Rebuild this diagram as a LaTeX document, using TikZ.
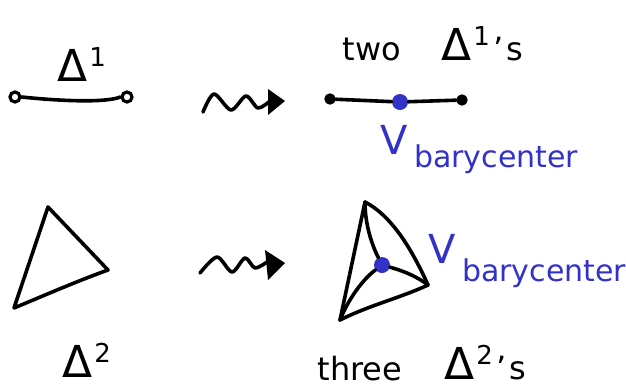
\documentclass[tikz,border=0pt]{standalone}
\usepackage{fontspec}
\setmainfont{DejaVu Sans}
\usetikzlibrary{arrows.meta}
\definecolor{penblue}{RGB}{50,50,200}
\newcommand\dsup[1]{Δ\kern2pt\raisebox{15pt}{\fontsize{26}{26}\selectfont #1}}
\begin{document}
\begin{tikzpicture}[x=1pt,y=-1pt,
  ink/.style={line width=3.6pt, line cap=round, line join=round},
  endpt/.style={circle, draw, line width=3.2pt, minimum size=10pt, inner sep=0pt},
  bdot/.style={circle, fill=penblue, minimum size=16pt, inner sep=0pt},
  lbl/.style={inner sep=0pt, font=\fontsize{32}{32}\selectfont},
  dlbl/.style={inner sep=0pt, font=\fontsize{44}{44}\selectfont},
  blbl/.style={inner sep=0pt, text=penblue, font=\fontsize{30}{30}\selectfont},
  bV/.style={inner sep=0pt, text=penblue, font=\fontsize{40}{40}\selectfont}]
\useasboundingbox (0,0) rectangle (626,389);

% ---------- top row: Delta^1 ----------
\node[dlbl, anchor=base west] (d1) at (57,81) {\dsup{1}};
\node[endpt] (a1) at (15,97) {};
\node[endpt] (a2) at (127,97) {};
\draw[ink] (a1.east) .. controls (60,101) and (105,103) .. (a2.west);

% wavy arrow top
\coordinate (w1s) at (203,112);
\coordinate (w1e) at (285,101);
\draw[ink] plot[smooth] coordinates {(w1s) (214,94) (231,110) (246,96) (258,108) (270,101)};
\fill[ink] (268,89) -- (w1e) -- (268,115) -- cycle;

% two Delta^1's
\node[lbl, anchor=base] (two) at (372,60) {two};
\node[dlbl, anchor=base west] (d1s) at (441,60) {\dsup{1}\kern4pt\fontsize{32}{32}\selectfont'\kern2pt s};

\node[endpt, fill=black, minimum size=8pt] (b1) at (330,99) {};
\node[endpt, fill=black, minimum size=8pt] (b2) at (462,100) {};
\node[bdot] (bc1) at (400,102) {};
\draw[ink] (b1) -- (bc1) -- (b2);

\node[bV] (v1) at (394,140) {V};
\node[blbl, anchor=base west] (bary1) at (414,167) {barycenter};

% ---------- bottom row: Delta^2 ----------
\coordinate (p1) at (48,207);
\coordinate (p2) at (14,308);
\coordinate (p3) at (108,270);
\draw[ink] (p1) -- (p2) .. controls (50,293) and (80,280) .. (p3) -- cycle;
\node[dlbl, anchor=base west] (d2) at (62,377) {\dsup{2}};

% wavy arrow bottom
\coordinate (w2s) at (200,273);
\coordinate (w2e) at (285,263);
\draw[ink] plot[smooth] coordinates {(w2s) (217,257) (232,272) (245,258) (255,268) (267,262)};
\fill[ink] (265,250) -- (w2e) -- (268,280) -- cycle;

% subdivided triangle
\coordinate (q1) at (365,202);
\coordinate (q2) at (340,320);
\coordinate (q3) at (428,285);
\node[bdot] (bc2) at (382,265) {};
\draw[ink] (q1) -- (q2);
\draw[ink] (q1) .. controls (390,215) and (410,245) .. (q3);
\draw[ink] (q2) .. controls (370,305) and (400,298) .. (q3);
\draw[ink] (bc2) .. controls (372,245) and (365,225) .. (q1);
\draw[ink] (bc2) .. controls (362,280) and (348,300) .. (q2);
\draw[ink] (bc2) .. controls (400,270) and (415,275) .. (q3);

\node[bV] (v2) at (442,249) {V};
\node[blbl, anchor=base west] (bary2) at (462,281) {barycenter};

% three Delta^2's
\node[lbl, anchor=base] (three) at (360,380) {three};
\node[dlbl, anchor=base west] (d2s) at (444,379) {\dsup{2}\kern4pt\fontsize{32}{32}\selectfont'\kern2pt s};
\end{tikzpicture}
\end{document}
